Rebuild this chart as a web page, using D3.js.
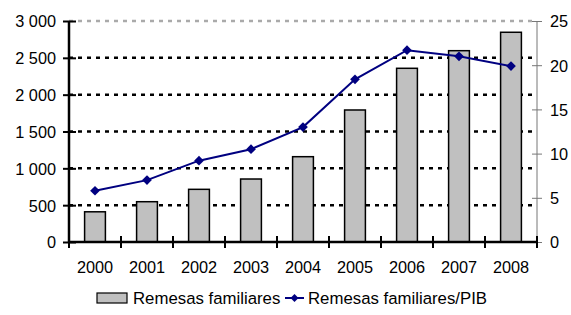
<!DOCTYPE html>
<html>
<head>
<meta charset="utf-8">
<script src="https://cdn.jsdelivr.net/npm/d3@7"></script>
<style>
  body { margin: 0; background: #fff; }
  text { font-family: "Liberation Sans", Arial, sans-serif; font-size: 16px; fill: #000; }
</style>
</head>
<body>
<div id="chart"></div>
<script>
// Chart data
var years = ["2000","2001","2002","2003","2004","2005","2006","2007","2008"];
var remesas = [410, 547, 715, 855, 1158, 1792, 2358, 2597, 2847];
var remesasPib = [5.8, 7.0, 9.2, 10.5, 13.0, 18.4, 21.7, 21.0, 19.9];
var leftTicks = [0, 500, 1000, 1500, 2000, 2500, 3000];
var rightTicks = [0, 5, 10, 15, 20, 25];
var legendLabels = ["Remesas familiares", "Remesas familiares/PIB"];

var width = 571, height = 315,
    pLeft = 69, pRight = 537, pTop = 21, pBottom = 242;

var svg = d3.select("#chart").append("svg")
    .attr("width", width)
    .attr("height", height);

var x = d3.scaleBand().domain(years).range([pLeft, pRight])
    .paddingInner(0.6).paddingOuter(0.3);
var yL = d3.scaleLinear().domain([0, 3000]).range([pBottom, pTop]);
var yR = d3.scaleLinear().domain([0, 25]).range([pBottom, pTop]);

var fmt = function(d){ return d3.format(",")(d).replace(/,/g, " "); };

// gridlines
svg.append("g").selectAll("line")
    .data(leftTicks.filter(function(d){ return d > 0; }))
    .enter().append("line")
    .attr("x1", pLeft).attr("x2", pRight)
    .attr("y1", function(d){ return yL(d); })
    .attr("y2", function(d){ return yL(d); })
    .attr("stroke", function(d){ return d === 3000 ? "#aaa" : "#000"; })
    .attr("stroke-width", 2.5)
    .attr("stroke-dasharray", "4,5");

// bars
svg.append("g").selectAll("rect")
    .data(remesas)
    .enter().append("rect")
    .attr("x", function(d, i){ return x(years[i]); })
    .attr("y", function(d){ return yL(d); })
    .attr("width", x.bandwidth())
    .attr("height", function(d){ return pBottom - yL(d); })
    .attr("fill", "#c0c0c0")
    .attr("stroke", "#000")
    .attr("stroke-width", 1.5);

// left axis
var gL = svg.append("g").attr("transform", "translate(" + pLeft + ",0)")
    .call(d3.axisLeft(yL).tickValues(leftTicks).tickFormat(fmt).tickSize(7));
gL.select(".domain").remove();
gL.selectAll(".tick line").attr("x2", 7).attr("x1", -6).attr("stroke", "#000").attr("stroke-width", 2);
gL.selectAll(".tick text").attr("x", -13).attr("dy", "0.36em")
    .style("font-size", "16.3px").style("font-family", "Liberation Sans, Arial, sans-serif");
gL.append("line").attr("y1", pTop).attr("y2", pBottom).attr("stroke", "#000").attr("stroke-width", 2.5);

// right axis
var gR = svg.append("g").attr("transform", "translate(" + pRight + ",0)")
    .call(d3.axisRight(yR).tickValues(rightTicks).tickSize(5));
gR.select(".domain").remove();
gR.selectAll(".tick line").attr("x1", -5).attr("x2", 5).attr("stroke", "#777").attr("stroke-width", 1);
gR.selectAll(".tick text").attr("x", 13).attr("dy", "0.36em")
    .style("font-size", "16.3px").style("font-family", "Liberation Sans, Arial, sans-serif");
gR.append("line").attr("y1", pTop).attr("y2", pBottom).attr("stroke", "#777").attr("stroke-width", 1);

// bottom axis
var gB = svg.append("g").attr("transform", "translate(0," + pBottom + ")");
gB.append("line").attr("x1", pLeft).attr("x2", pRight).attr("stroke", "#000").attr("stroke-width", 2.5);
gB.selectAll("line.tk")
    .data(d3.range(years.length + 1))
    .enter().append("line").attr("class", "tk")
    .attr("x1", function(d){ return pLeft + d * x.step(); })
    .attr("x2", function(d){ return pLeft + d * x.step(); })
    .attr("y1", -6).attr("y2", 6)
    .attr("stroke", "#000").attr("stroke-width", 2);
gB.selectAll("text")
    .data(years)
    .enter().append("text")
    .attr("x", function(d){ return x(d) + x.bandwidth() / 2; })
    .attr("y", 31)
    .attr("text-anchor", "middle")
    .style("font-size", "16.3px")
    .text(function(d){ return d; });

// line series
var line = d3.line()
    .x(function(d, i){ return x(years[i]) + x.bandwidth() / 2; })
    .y(function(d){ return yR(d); });
svg.append("path")
    .datum(remesasPib)
    .attr("d", line)
    .attr("fill", "none")
    .attr("stroke", "#000080")
    .attr("stroke-width", 2);
svg.append("g").selectAll("path")
    .data(remesasPib)
    .enter().append("path")
    .attr("d", d3.symbol().type(d3.symbolDiamond2).size(60))
    .attr("transform", function(d, i){ return "translate(" + (x(years[i]) + x.bandwidth() / 2) + "," + yR(d) + ")"; })
    .attr("fill", "#000080");

// legend
var leg = svg.append("g").attr("transform", "translate(0,298)");
leg.append("rect").attr("x", 97).attr("y", -5).attr("width", 30).attr("height", 10)
    .attr("fill", "#c0c0c0").attr("stroke", "#000").attr("stroke-width", 1.2);
leg.append("text").attr("x", 133).attr("y", 6).style("font-size", "16.8px").text(legendLabels[0]);
leg.append("line").attr("x1", 285).attr("x2", 304).attr("y1", 0).attr("y2", 0)
    .attr("stroke", "#000080").attr("stroke-width", 2);
leg.append("path").attr("d", d3.symbol().type(d3.symbolDiamond2).size(40))
    .attr("transform", "translate(294.5,0)").attr("fill", "#000080");
leg.append("text").attr("x", 308).attr("y", 6).style("font-size", "16.8px").text(legendLabels[1]);
</script>
</body>
</html>
